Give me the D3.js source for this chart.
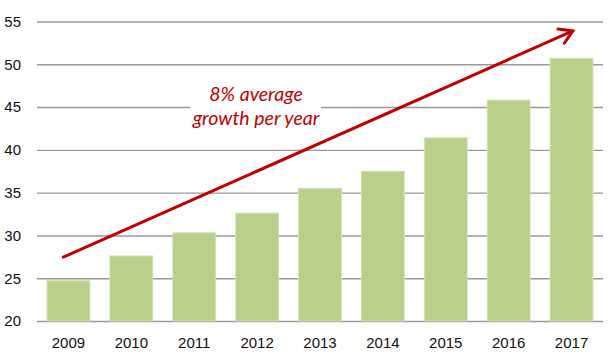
<!DOCTYPE html>
<html>
<head>
<meta charset="utf-8">
<script src="https://cdn.jsdelivr.net/npm/d3@7"></script>
<style>
  body { margin: 0; background: #fff; }
  svg { display: block; }
  .tick text { font-family: "Liberation Sans", Arial, sans-serif; font-size: 15px; fill: #111; }
</style>
</head>
<body>
<svg id="chart" width="611" height="361"></svg>
<script>
var years = ["2009","2010","2011","2012","2013","2014","2015","2016","2017"];
var values = [24.7, 27.6, 30.3, 32.6, 35.5, 37.5, 41.4, 45.8, 50.7];
var yTicks = [20, 25, 30, 35, 40, 45, 50, 55];
var arrowFrom = [-0.1, 27.4];   // [year index, value]
var arrowTo = [8.02, 53.9];
var noteLines = ["8% average", "growth per year"];

var WIDTH = 611, HEIGHT = 361;
var LEFT = 37, RIGHT = 603, TOP = 21.5, BOTTOM = 321;

var svg = d3.select("#chart");

var xScale = d3.scaleBand().domain(years).range([LEFT, RIGHT]).paddingInner(0.32).paddingOuter(0.16);
var yScale = d3.scaleLinear().domain([20, 55]).range([BOTTOM, TOP]);
// index position -> x at band centre
var iScale = d3.scaleLinear().domain([0, years.length - 1])
    .range([xScale(years[0]) + xScale.bandwidth()/2, xScale(years[years.length-1]) + xScale.bandwidth()/2]);

// grid
var yAxis = d3.axisLeft(yScale).tickValues(yTicks).tickSize(-(RIGHT - LEFT)).tickPadding(16).tickFormat(d3.format("d"));
var gy = svg.append("g").attr("transform", "translate(" + LEFT + ",0)").call(yAxis);
gy.select(".domain").remove();
gy.selectAll(".tick line").attr("stroke", "#9a9a9a").attr("stroke-width", 1.4);

// bars
svg.append("g").selectAll("rect").data(values).enter().append("rect")
    .attr("x", function(d,i){ return xScale(years[i]); })
    .attr("y", function(d){ return yScale(d); })
    .attr("width", xScale.bandwidth())
    .attr("height", function(d){ return yScale(20) - yScale(d); })
    .attr("fill", "#b9d08a")
    .attr("stroke", "#cfe0b0")
    .attr("stroke-width", 1);

// x labels
var xAxis = d3.axisBottom(xScale).tickSize(0).tickPadding(16);
var gx = svg.append("g").attr("transform", "translate(0," + BOTTOM + ")").call(xAxis);
gx.select(".domain").remove();

// note with white backing
var note = svg.append("g");
note.append("rect").attr("x", 190).attr("y", 82).attr("width", 131).attr("height", 48).attr("fill", "#fff");
note.selectAll("text").data(noteLines).enter().append("text")
    .attr("x", 256)
    .attr("y", function(d,i){ return 101 + i*24; })
    .attr("text-anchor", "middle")
    .style("font-family", "Lato, 'Open Sans', sans-serif")
    .style("font-style", "italic")
    .style("font-size", "19.5px")
    .style("fill", "#c00000")
    .text(function(d){ return d; });

// arrow
var x1 = iScale(arrowFrom[0]), y1 = yScale(arrowFrom[1]);
var x2 = iScale(arrowTo[0]), y2 = yScale(arrowTo[1]);
var ang = Math.atan2(y2 - y1, x2 - x1);
var head = 15, spread = 0.55;
svg.append("line")
    .attr("x1", x1).attr("y1", y1).attr("x2", x2).attr("y2", y2)
    .attr("stroke", "#c00000").attr("stroke-width", 3);
svg.append("path")
    .attr("d", d3.line()([
        [x2 - head*Math.cos(ang - spread), y2 - head*Math.sin(ang - spread)],
        [x2, y2],
        [x2 - head*Math.cos(ang + spread), y2 - head*Math.sin(ang + spread)]
    ]))
    .attr("fill", "none").attr("stroke", "#c00000").attr("stroke-width", 3)
    .attr("stroke-linejoin", "miter").attr("stroke-linecap", "round");
</script>
</body>
</html>
